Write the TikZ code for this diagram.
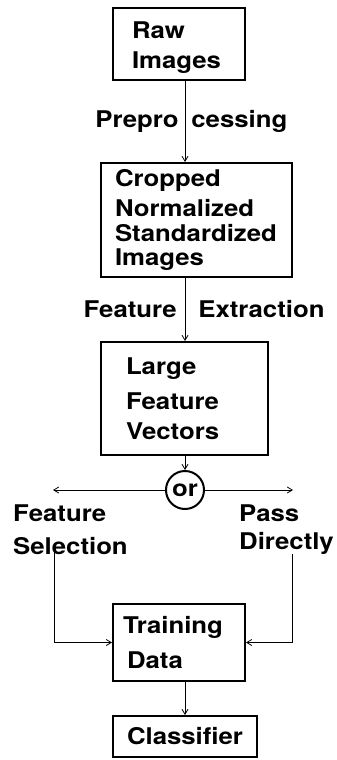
\documentclass[tikz,border=0pt]{standalone}
\usepackage{fontspec}
\setmainfont[FakeStretch=1.12]{TeX Gyre Heros}
\usepackage{tikz}
\usetikzlibrary{arrows.meta, positioning, calc}
\tikzset{
  stage/.style={draw, line width=2pt, rectangle, align=left, inner ysep=0pt},
  flow/.style={line width=0.8pt, -{Straight Barb[length=5pt,width=6pt]}},
  tag/.style={inner sep=0pt, align=left},
}
\begin{document}
\begin{tikzpicture}[x=1pt, y=-1pt, font=\fontsize{23}{26}\selectfont\bfseries]
    \useasboundingbox (0, 0) rectangle (337, 760);
    \coordinate (spine) at (185, 0);
    % Boxes
    \node[stage, minimum height=72pt, text width=94pt, inner xsep=19pt] (raw) at (179, 44) {\rule{0pt}{24.5pt}Raw\\[4pt]Images};
    \node[stage, minimum height=114pt, text width=163pt, inner xsep=14pt] (crop) at (196.5, 220)
        {Cropped\\[4pt]Normalized\\[-1pt]Standardized\\[-2pt]Images};
    \node[stage, minimum height=113pt, text width=117pt, inner xsep=25pt] (vec) at (184.5, 398.5)
        {Large\\[9pt]Feature\\[4pt]Vectors};
    \node[draw, circle, line width=2pt, minimum size=38pt, inner sep=0pt] (or) at (185, 490) {or};
    \node[stage, minimum height=77pt, text width=112pt, inner xsep=10pt] (train) at (179, 642.5)
        {Training\\[9pt]\hspace*{4pt}Data};
    \node[stage, minimum height=41pt, text width=116pt, inner xsep=14pt, align=center] (clf) at (185, 736.5) {Classifier};
    % Branch labels
    \node[tag, anchor=north west] (sel) at (13, 505) {Feature\\[7pt]Selection};
    \node[tag, anchor=north west] (pass) at (239, 505) {Pass\\[2pt]Directly};
    % Main line
    \draw[flow] (raw.south -| spine) -- node[tag, left=6pt] {Prepro} node[tag, right=6pt] {cessing} (crop.north -| spine);
    \draw[flow] (crop.south -| spine) -- node[tag, left=8pt] {Feature} node[tag, right=13pt] {Extraction} (vec.north -| spine);
    \draw[flow] (vec.south -| spine) -- (or.north);
    \draw[flow] (or.west) -- (53, 490);
    \draw[flow] (or.east) -- (293, 490);
    % Branches into the training data
    \draw[flow] ([xshift=41pt, yshift=8pt]sel.south west) |- (train.west);
    \draw[flow] ([xshift=53pt, yshift=1pt]pass.south west) |- (train.east);
    \draw[flow] (train.south -| spine) -- (clf.north -| spine);
\end{tikzpicture}
\end{document}
